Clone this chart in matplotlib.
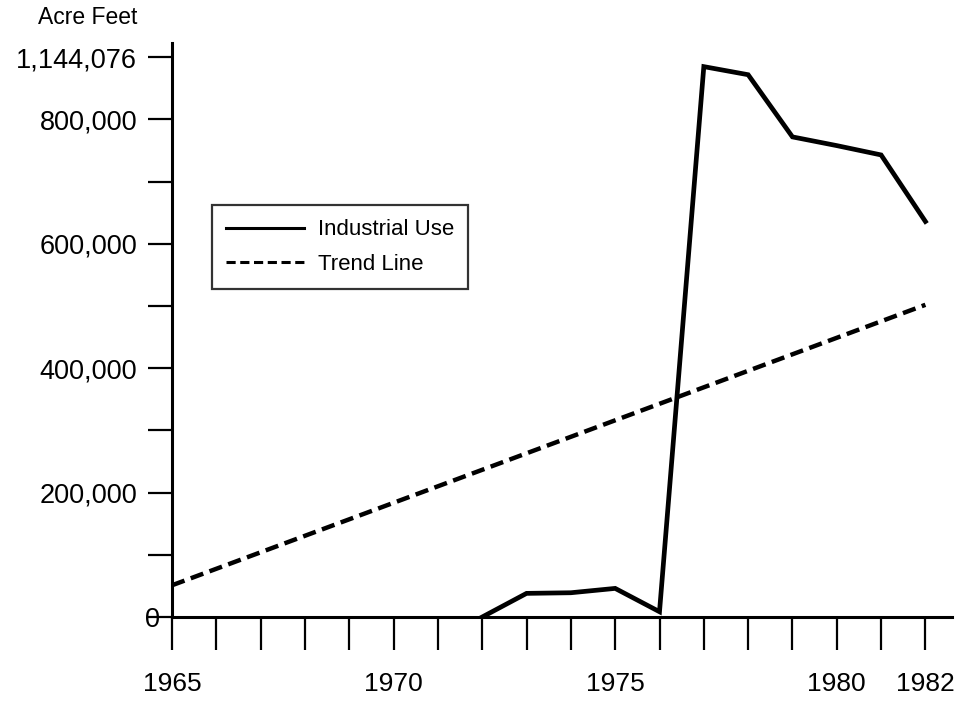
import matplotlib.pyplot as plt
from matplotlib.transforms import ScaledTranslation

# Industrial water use (acre feet)
use_years = [1972, 1973, 1974, 1975, 1976, 1977, 1978, 1979, 1980, 1981, 1982]
industrial_use = [0, 38000, 39000, 46000, 8500, 885000, 872000, 772000, 758000, 743000, 636000]

# trend line end points
trend_years = [1965, 1982]
trend_values = [51000, 502000]

year_ticks = list(range(1965, 1983))
year_labels = {1965: "1965", 1970: "1970", 1975: "1975", 1980: "1980", 1982: "1982"}

y_ticks = [0, 100000, 200000, 300000, 400000, 500000, 600000, 700000, 800000, 900000]
y_labels = ["0", "", "200,000", "", "400,000", "", "600,000", "", "800,000", "1,144,076"]


def main():
    plt.rcParams['font.family'] = ['Liberation Sans', 'DejaVu Sans']

    fig = plt.figure(figsize=(9.65, 7.05), dpi=100)
    ax = fig.add_axes([172 / 965, 88 / 705, 780 / 965, 574 / 705])

    ax.plot(use_years, industrial_use, color='black', lw=3.4,
            solid_joinstyle='miter', label='Industrial Use')
    ax.plot(trend_years, trend_values, color='black', lw=3.2,
            dashes=(3.0, 1.5), label='Trend Line')

    ax.set_xlim(1965, 1982.6)
    ax.set_ylim(0, 923000)

    for side in ['top', 'right']:
        ax.spines[side].set_visible(False)
    for side in ['left', 'bottom']:
        ax.spines[side].set_linewidth(2.2)

    ax.set_xticks(year_ticks)
    ax.set_xticklabels([year_labels.get(y, "") for y in year_ticks], fontsize=19)
    ax.set_yticks(y_ticks)
    ax.set_yticklabels(y_labels, fontsize=19.5)

    ax.tick_params(axis='x', direction='out', length=24, width=1.6, pad=15.5)
    ax.tick_params(axis='y', direction='out', length=17, width=1.6, pad=8)

    # the "0" label sits on top of its tick in the original
    zero = ax.get_yticklabels()[0]
    zero.set_transform(zero.get_transform() + ScaledTranslation(16 / 72, 0, fig.dpi_scale_trans))

    fig.text(38 / 965, 1 - 18 / 705, "Acre Feet", fontsize=16.5, va='center', ha='left')

    leg = ax.legend(loc='upper left', bbox_to_anchor=(212 / 965, 1 - 205 / 705),
                    bbox_transform=fig.transFigure, borderaxespad=0,
                    fontsize=16, frameon=True, fancybox=False, edgecolor='black',
                    handlelength=3.5, handletextpad=0.6, labelspacing=0.6,
                    borderpad=0.65)
    leg.get_frame().set_linewidth(1.6)
    for line in leg.get_lines():
        line.set_linewidth(2.2)

    fig.savefig('out.png', dpi=100)


if __name__ == '__main__':
    main()
